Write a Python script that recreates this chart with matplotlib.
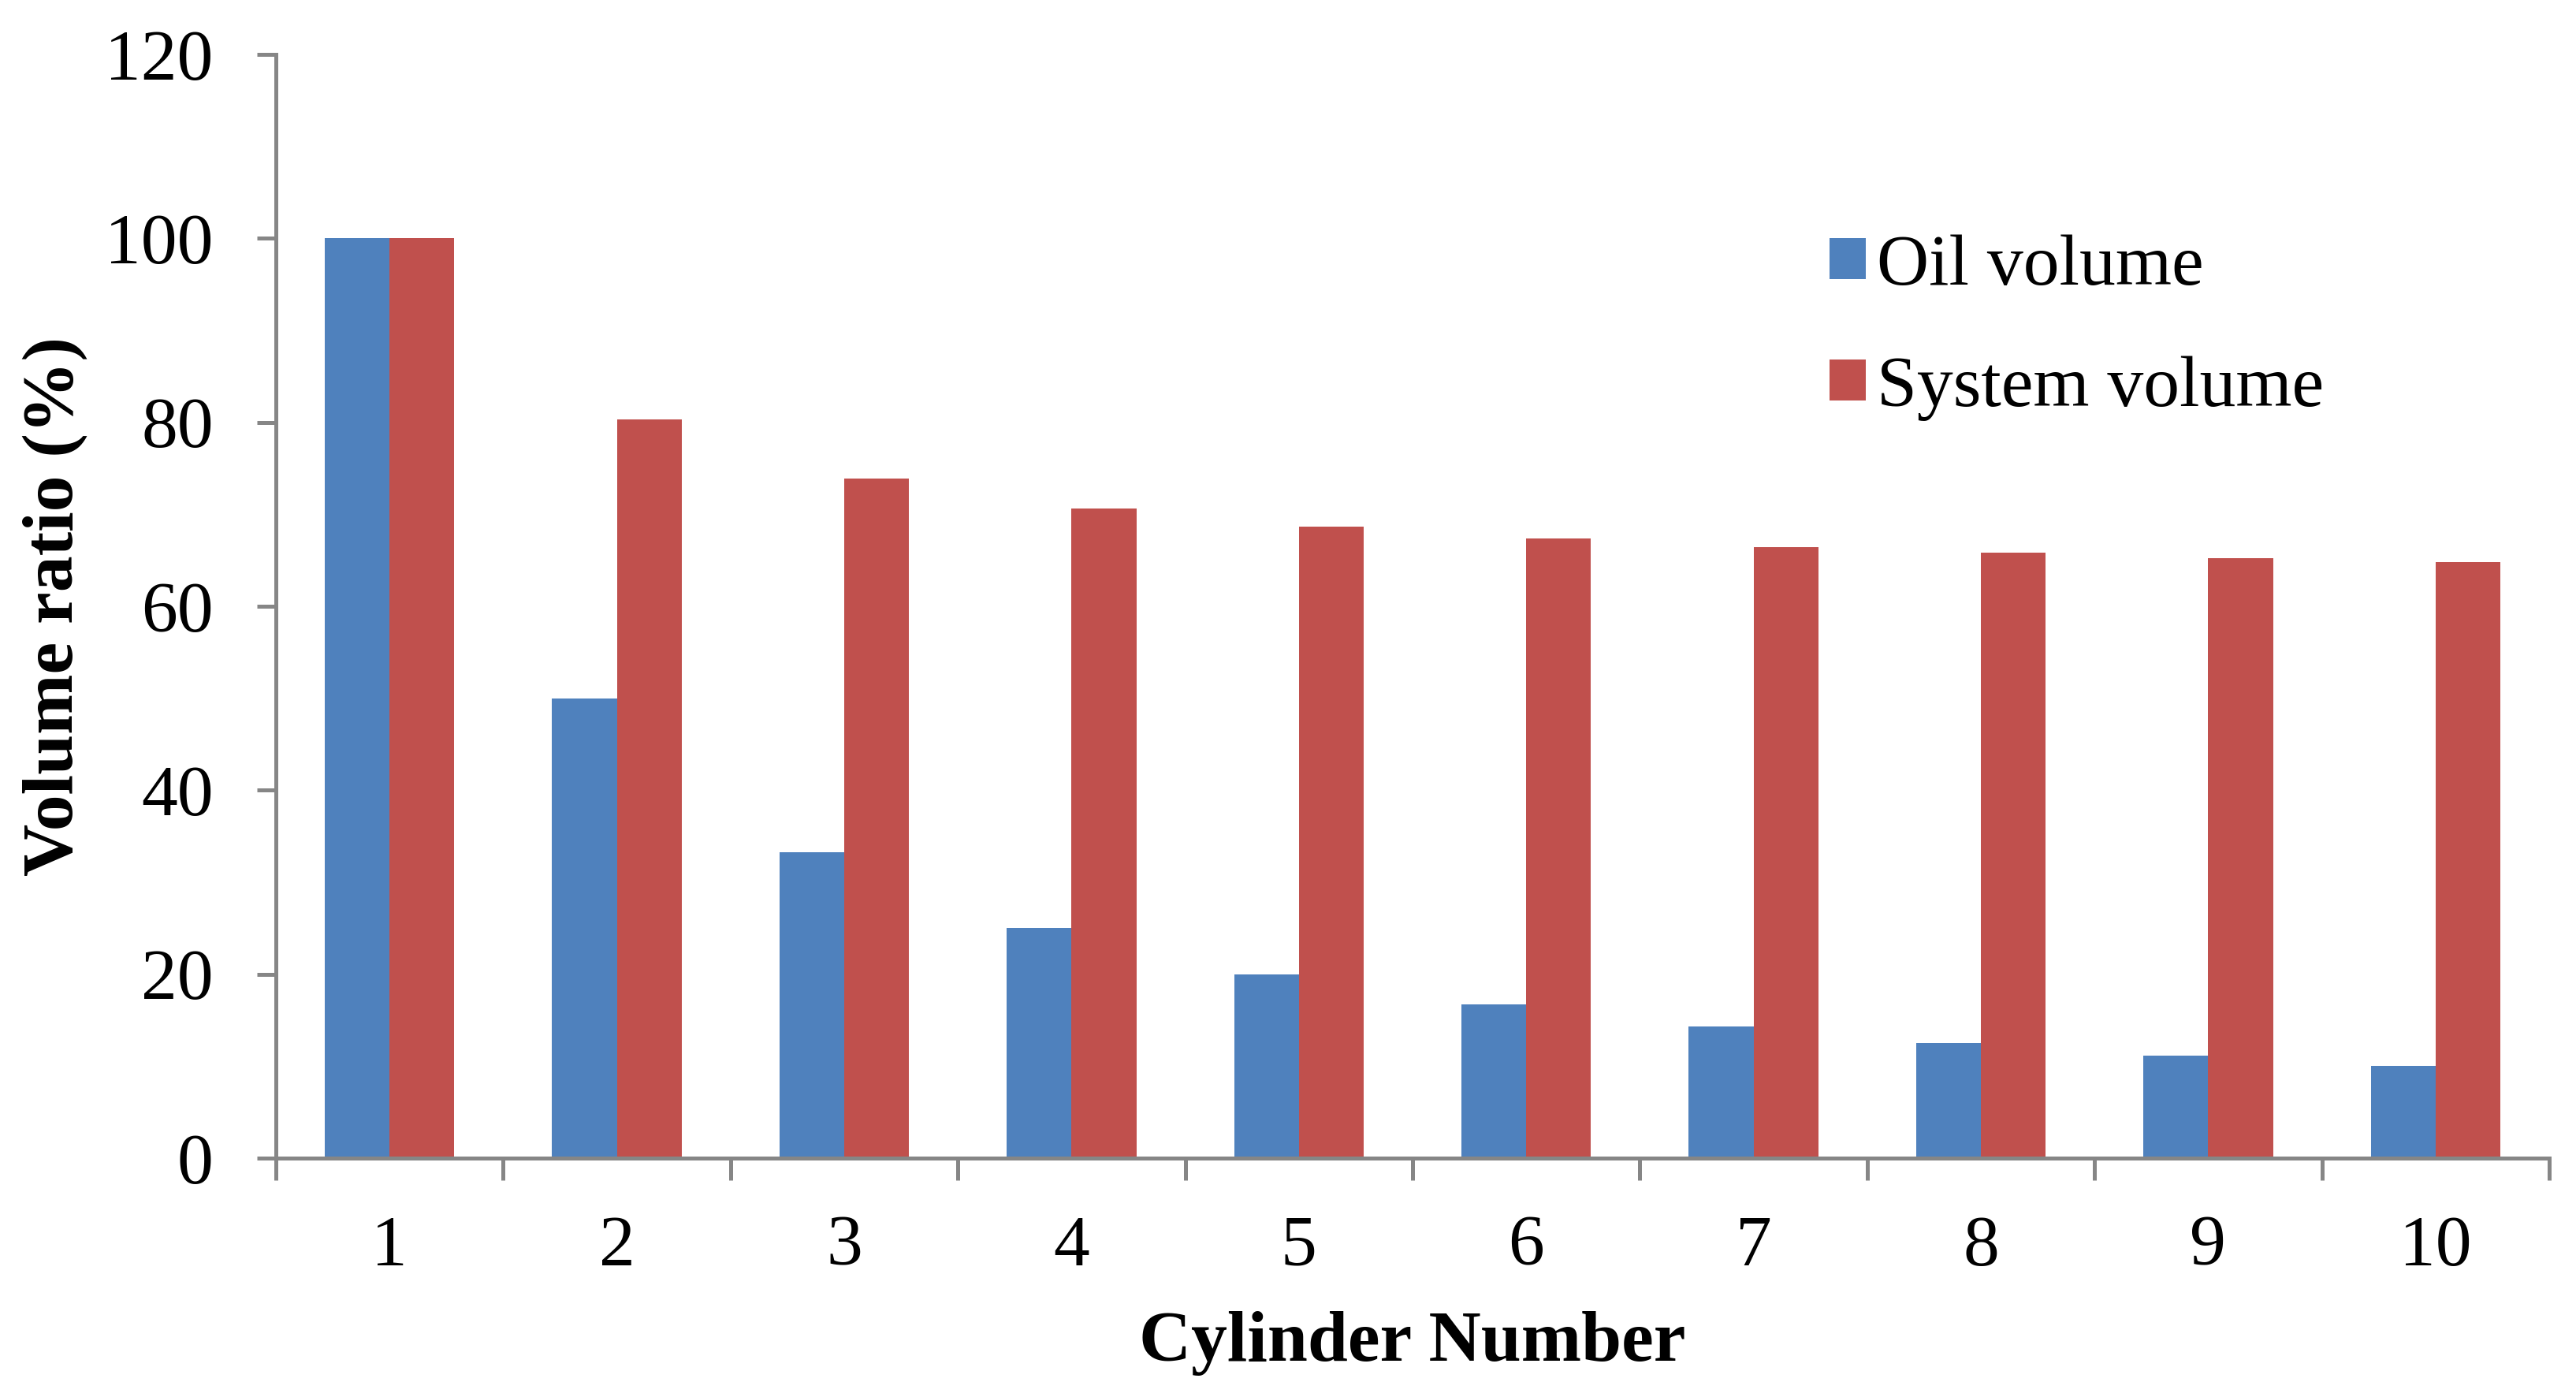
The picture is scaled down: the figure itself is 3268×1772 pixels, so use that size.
import numpy as np
import matplotlib
matplotlib.use("Agg")
import matplotlib.pyplot as plt

cylinders = ["1", "2", "3", "4", "5", "6", "7", "8", "9", "10"]
oil_volume = [100, 50, 33.3, 25, 20, 16.7, 14.3, 12.5, 11.1, 10]
system_volume = [100, 80.3, 73.9, 70.6, 68.7, 67.4, 66.4, 65.8, 65.2, 64.8]

plt.rcParams['font.family'] = ['Liberation Serif', 'DejaVu Serif']

fig = plt.figure(figsize=(16.34, 8.86), dpi=200)
ax = fig.add_axes([0.1071, 0.171, 0.8825, 0.790])

x = np.arange(len(cylinders))
w = 0.285
ax.bar(x - w / 2, oil_volume, w, color="#4F81BD", label="Oil volume")
ax.bar(x + w / 2, system_volume, w, color="#C0504D", label="System volume")

ax.set_xlim(-0.5, len(cylinders) - 0.5)
ax.set_ylim(0, 120)
ax.set_yticks(np.arange(0, 121, 20))

# boundaries get the tick marks, centres get the labels
ax.set_xticks(np.arange(-0.5, len(cylinders), 1.0))
ax.set_xticklabels([])
ax.set_xticks(x, minor=True)
ax.set_xticklabels(cylinders, minor=True)

gray = "#868686"
for s in ["top", "right"]:
    ax.spines[s].set_visible(False)
for s in ["left", "bottom"]:
    ax.spines[s].set_color(gray)
    ax.spines[s].set_linewidth(1.8)

ax.tick_params(axis="y", which="major", direction="out", length=8.5, width=1.8,
               color=gray, labelsize=33, pad=20)
ax.tick_params(axis="x", which="major", direction="out", length=10, width=1.8,
               color=gray)
ax.tick_params(axis="x", which="minor", length=0, labelsize=33, pad=26)

ax.set_xlabel("Cylinder Number", fontsize=33, fontweight="bold", labelpad=14)
ax.set_ylabel("Volume ratio (%)", fontsize=33, fontweight="bold", labelpad=8)

ax.legend(loc="upper left", bbox_to_anchor=(0.699, 0.853), bbox_transform=fig.transFigure,
          frameon=False, fontsize=33, handlelength=0.5, handleheight=0.5,
          handletextpad=0.15, labelspacing=0.78, borderaxespad=0)

fig.savefig("out.png", dpi=200, facecolor="white")
